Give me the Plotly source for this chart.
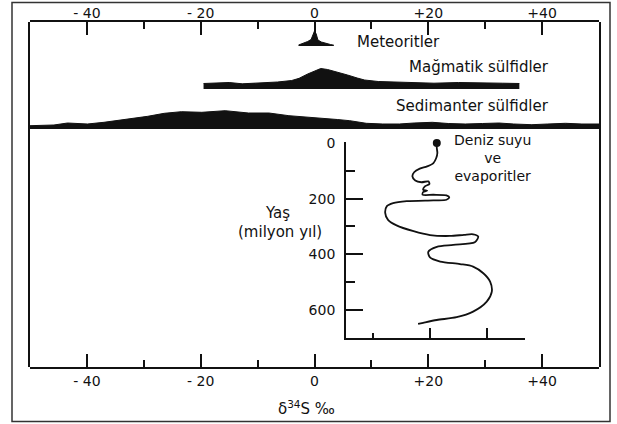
import plotly.graph_objects as go

# ---------------- data ----------------
# delta34S axis ticks
tick_vals = [-40, -20, 0, 20, 40]
tick_text = ["- 40", "- 20", "0", "+20", "+40"]
minor_vals = [-30, -10, 10, 30]

# Meteorites distribution (delta34S, relative frequency)
met_x = [-2.8, -2.0, -1.2, -0.6, -0.3, 0.0, 0.3, 0.6, 1.2, 2.0, 2.8, 3.4]
met_h = [1.0, 2.5, 4.5, 6.5, 12.0, 15.0, 12.0, 6.0, 4.0, 2.5, 1.5, 0.8]

# Magmatic sulphides
mag_x = [-19.5, -17, -15, -12.7, -9.5, -6.5, -4, -2.7, -1.2, 0, 1.1, 2.3, 4.1, 5.8,
         7.5, 8.8, 11.2, 14.7, 18, 21, 25.3, 28, 30.6, 33, 36]
mag_h = [5.5, 6.0, 6.5, 5.2, 6.0, 7.0, 8.5, 10.7, 15, 18, 20.5, 19.5, 17, 14,
         11, 9, 7.5, 6.7, 6.2, 5.8, 6.5, 6.0, 6.0, 5.8, 5.5]

# Sedimentary sulphides
sed_x = [-50, -45.8, -43.4, -39.9, -37, -34, -29.3, -26.4, -23.4, -19.8, -15.7, -11.6,
         -8, -4.5, -1, 1.4, 4, 6.2, 9.1, 12, 14.9, 17.5, 20.7, 23.5, 26.5, 29.5, 32.4,
         35, 38.2, 41, 44.1, 47, 50]
sed_h = [3.3, 4, 6, 5, 6.7, 9, 12.7, 15.7, 17.3, 16.7, 18.3, 16, 16, 13.3, 12.0, 10.7,
         9.5, 8.3, 5.7, 5.0, 5.0, 6.0, 6.7, 5.5, 5.0, 5.5, 6.0, 5.0, 4.3, 5.0, 5.7, 5.0, 5.0]

# Sea water & evaporites: delta34S vs age (million years)
sw_x = [21.2, 21.2, 21.3, 21.1, 20.6, 19.5, 18.2, 17.2, 16.9, 17.4, 18.5, 19.7, 19.9,
        19.1, 18.8, 19.5, 18.8, 18.7, 20.6, 22.9, 23.4, 22.9, 20.6, 15.9, 13.5, 12.4,
        12.1, 12.6, 14.1, 17.1, 20.0, 23.5, 26.0, 27.6, 28.5, 27.9, 24.1, 21.2, 19.7,
        20.0, 21.8, 25.3, 27.6, 29.4, 30.6, 30.9, 30.0, 27.6, 24.7, 21.2, 18.8, 17.9]
sw_age = [0, 18, 36, 54, 72, 84, 92, 105, 120, 135, 141, 138, 147,
          156, 168, 171, 176, 186, 186, 188, 195, 204, 206, 209, 216, 227,
          251, 276, 296, 317, 331, 334, 330, 328, 336, 357, 366, 373, 391,
          411, 426, 435, 444, 468, 498, 534, 570, 606, 626, 636, 646, 650]

age_major = [0, 200, 400, 600]
age_minor = [100, 300, 500]
inner_x_major = [20, 30]
inner_x_minor = [10]

# ---------------- figure ----------------
W, H = 617, 424
L, R, T, B = 30, 599, 22, 367  # plot-area pixel box


def px_x(p):
    return (p - L) / (R - L)


def px_y(p):
    return (B - p) / (B - T)


FONT = "DejaVu Sans"
INK = "#111111"

fig = go.Figure()

fill_kw = dict(mode="lines", fill="tozeroy", line=dict(color=INK, width=1),
               fillcolor=INK, hoverinfo="skip", showlegend=False)
fig.add_trace(go.Scatter(x=met_x, y=met_h, xaxis="x", yaxis="y3", **fill_kw))
fig.add_trace(go.Scatter(x=mag_x, y=mag_h, xaxis="x", yaxis="y4", **fill_kw))
fig.add_trace(go.Scatter(x=sed_x, y=sed_h, xaxis="x", yaxis="y5", **fill_kw))

fig.add_trace(go.Scatter(x=sw_x, y=sw_age, xaxis="x2", yaxis="y2", mode="lines",
                         line=dict(color=INK, width=1.8, shape="spline", smoothing=0.8),
                         showlegend=False, hoverinfo="skip"))
fig.add_trace(go.Scatter(x=sw_x[:1], y=sw_age[:1], xaxis="x2", yaxis="y2", mode="markers",
                         marker=dict(color=INK, size=8), cliponaxis=False,
                         showlegend=False, hoverinfo="skip"))
# dummy trace to activate top axis
fig.add_trace(go.Scatter(x=[0], y=[0.5], xaxis="x3", yaxis="y", mode="markers",
                         marker=dict(opacity=0), showlegend=False, hoverinfo="skip"))

tickfont = dict(family=FONT, size=14, color=INK)

fig.update_layout(
    width=W, height=H,
    margin=dict(l=L, r=W - R, t=T, b=H - B, autoexpand=False),
    paper_bgcolor="white", plot_bgcolor="rgba(0,0,0,0)",
    xaxis=dict(range=[-50, 50], domain=[0, 1], anchor="y", automargin=False,
               showline=True, mirror=True, linecolor=INK, linewidth=2,
               ticks="inside", ticklen=13, tickwidth=1.5, tickcolor=INK,
               tickvals=tick_vals, ticktext=tick_text, tickfont=tickfont,
               minor=dict(tickvals=minor_vals, ticks="inside", ticklen=7,
                          tickwidth=1.5, tickcolor=INK),
               showgrid=False, zeroline=False),
    xaxis3=dict(range=[-50, 50], overlaying="x", side="top", anchor="y", automargin=False,
                ticks="inside", ticklen=13, tickwidth=1.5, tickcolor=INK,
                tickvals=tick_vals, ticktext=tick_text, tickfont=tickfont,
                ticklabelstandoff=0,
                minor=dict(tickvals=minor_vals, ticks="inside", ticklen=7,
                           tickwidth=1.5, tickcolor=INK),
                showgrid=False, zeroline=False, showline=False),
    yaxis=dict(range=[0, 1], domain=[0, 1], anchor="x", showline=True, mirror=True,
               automargin=False,
               linecolor=INK, linewidth=2, showticklabels=False, ticks="",
               showgrid=False, zeroline=False),
    yaxis3=dict(range=[0, 20], domain=[px_y(46), px_y(26)], anchor="x", visible=False),
    yaxis4=dict(range=[0, 24], domain=[px_y(89), px_y(65)], anchor="x", visible=False),
    yaxis5=dict(range=[0, 24], domain=[px_y(129), px_y(105)], anchor="x", visible=False),
    xaxis2=dict(domain=[px_x(346), px_x(525)], range=[5.19, 36.75], anchor="y2",
                automargin=False,
                showline=True, linecolor=INK, linewidth=1.8,
                ticks="inside", tickvals=inner_x_major, ticklen=10, tickwidth=1.5,
                tickcolor=INK, showticklabels=False,
                minor=dict(tickvals=inner_x_minor, ticks="inside", ticklen=5,
                           tickwidth=1.5, tickcolor=INK),
                showgrid=False, zeroline=False),
    yaxis2=dict(domain=[px_y(338.3), px_y(142)], range=[701.8, -3.6], anchor="x2",
                automargin=False,
                showline=True, linecolor=INK, linewidth=1.8,
                ticks="inside", tickvals=age_major, ticklen=17, tickwidth=1.5,
                tickcolor=INK, tickfont=tickfont, ticklabelstandoff=6,
                minor=dict(tickvals=age_minor, ticks="inside", ticklen=9,
                           tickwidth=1.5, tickcolor=INK),
                showgrid=False, zeroline=False),
)

afont = dict(family=FONT, size=15, color=INK)
ann = [
    dict(text="Meteoritler", x=px_x(355), y=px_y(42), xanchor="left"),
    dict(text="Mağmatik sülfidler", x=px_x(551), y=px_y(67), xanchor="right"),
    dict(text="Sedimanter sülfidler", x=px_x(551), y=px_y(106), xanchor="right"),
    dict(text="Yaş", x=px_x(277), y=px_y(213), xanchor="center"),
    dict(text="(milyon yıl)", x=px_x(280), y=px_y(232), xanchor="center"),
    dict(text="δ<sup>34</sup>S ‰", x=px_x(306), y=px_y(408), xanchor="center"),
]
for a in ann:
    fig.add_annotation(xref="paper", yref="paper", yanchor="middle", showarrow=False,
                       font=afont, **a)
fig.add_annotation(xref="paper", yref="paper", x=px_x(492), y=px_y(158),
                   xanchor="center", yanchor="middle", showarrow=False,
                   text="Deniz suyu<br>ve<br>evaporitler",
                   font=dict(family=FONT, size=14, color=INK))

# outer frame
fig.add_shape(type="rect", xref="paper", yref="paper",
              x0=px_x(12), x1=px_x(610), y0=px_y(421.5), y1=px_y(2.5),
              line=dict(color="#333333", width=1.5))

fig.write_html("out.html", config={"displayModeBar": False},
               post_script="document.body.style.margin='0';document.body.style.padding='0';")
